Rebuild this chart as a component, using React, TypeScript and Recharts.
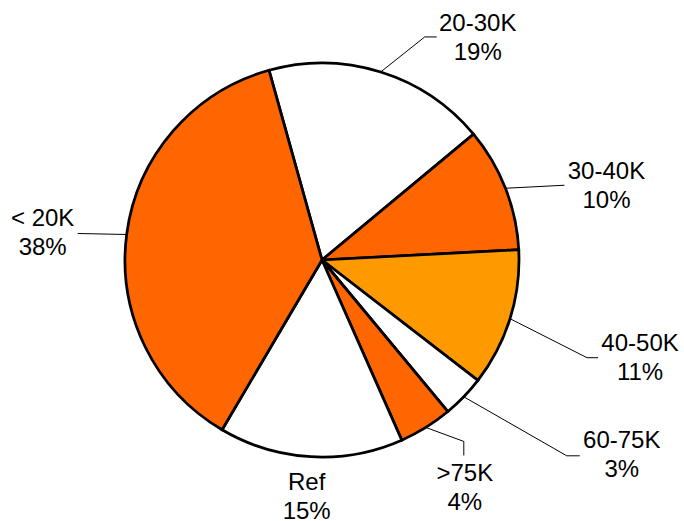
import { Cell, Pie, PieChart } from "recharts"

// slices, clockwise from the top
const categories = ["20-30K", "30-40K", "40-50K", "60-75K", ">75K", "Ref", "< 20K"]
const shares = [18.3, 10.2, 11.3, 3.5, 4.4, 15.1, 37.2]
const shareLabels = ["19%", "10%", "11%", "3%", "4%", "15%", "38%"]

const ORANGE = "#FF6600"
const LIGHT_ORANGE = "#FF9900"
const WHITE = "#FFFFFF"
const sliceColors = [WHITE, ORANGE, LIGHT_ORANGE, WHITE, ORANGE, WHITE, ORANGE]

// leader line points and text spot (centre x, first baseline), measured from the slice edge at its mid angle
const labelLayout: { line: number[][]; text: number[] }[] = [
  { line: [[0, 0], [44, -35], [56, -35]], text: [97, -41] },
  { line: [[0, 0], [59, -3]], text: [101, -9] },
  { line: [[0, 0], [77, 39], [88, 39]], text: [130, 32] },
  { line: [[0, 0], [103, 59], [116, 59]], text: [158, 51] },
  { line: [[0, 0], [38, 14], [38, 28]], text: [39, 54] },
  { line: [], text: [-4, 33] },
  { line: [[0, 0], [-49, -1]], text: [-84, -8] },
]

const data = categories.map((name, i) => ({ name, value: shares[i], label: shareLabels[i] }))

const RAD = Math.PI / 180
const FONT = "'Liberation Sans', Arial, sans-serif"

const renderLabel = (props: any) => {
  const { cx, cy, midAngle, outerRadius, index } = props
  const sx = cx + outerRadius * Math.cos(-midAngle * RAD)
  const sy = cy + outerRadius * Math.sin(-midAngle * RAD)
  const layout = labelLayout[index]
  const pts = layout.line.map(([dx, dy]) => `${sx + dx},${sy + dy}`).join(" ")
  const tx = sx + layout.text[0]
  const ty = sy + layout.text[1]
  return (
    <g key={`label-${index}`}>
      {layout.line.length > 0 && <polyline points={pts} fill="none" stroke="#000" strokeWidth={1} />}
      <text x={tx} y={ty} textAnchor="middle" fontFamily={FONT} fontSize={24} fill="#000">
        <tspan x={tx}>{categories[index]}</tspan>
        <tspan x={tx} dy={29}>{shareLabels[index]}</tspan>
      </text>
    </g>
  )
}

export default function App() {
  return (
    <div style={{ position: "absolute", left: 0, top: 0, width: 684, height: 521, background: "#fff" }}>
      <PieChart width={684} height={521} margin={{ top: 0, right: 0, bottom: 0, left: 0 }}>
        <Pie
          data={data}
          dataKey="value"
          nameKey="name"
          cx={322}
          cy={260}
          outerRadius={197}
          startAngle={105.6}
          endAngle={-254.4}
          stroke="#000"
          strokeWidth={2.75}
          label={renderLabel}
          labelLine={false}
          isAnimationActive={false}
        >
          {data.map((d, i) => (
            <Cell key={d.name} fill={sliceColors[i]} />
          ))}
        </Pie>
      </PieChart>
    </div>
  )
}
